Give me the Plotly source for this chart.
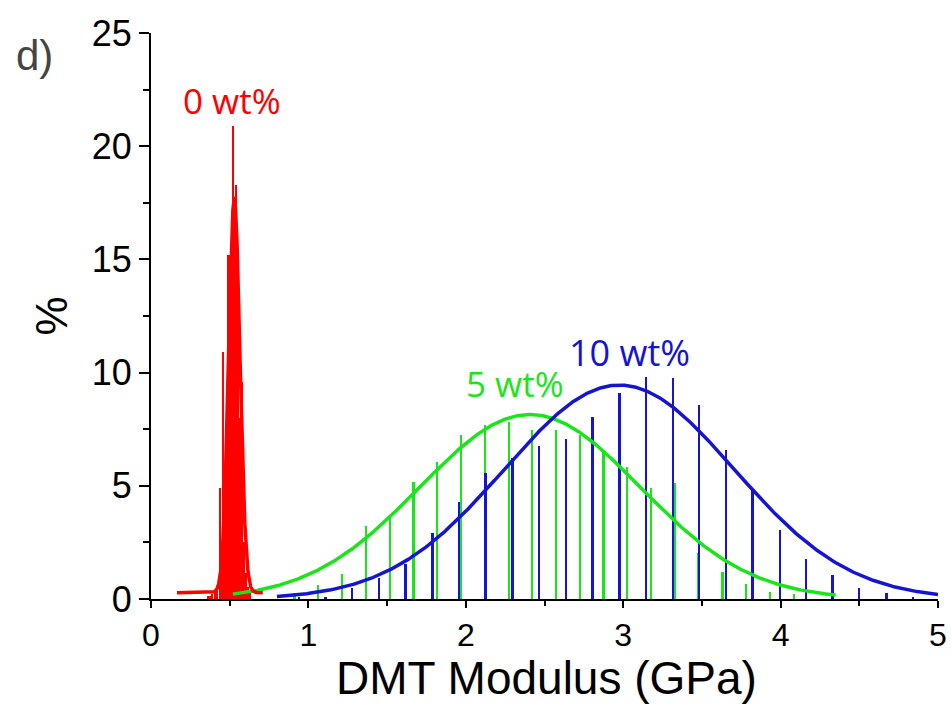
import numpy as np
import plotly.graph_objects as go

# ---- histogram data (DMT modulus, GPa) ----
red_x = [0.360, 0.375, 0.390, 0.405, 0.420, 0.436, 0.446, 0.455, 0.468, 0.479,
         0.490, 0.500, 0.511, 0.523, 0.533, 0.541, 0.552, 0.564, 0.578, 0.591,
         0.604, 0.616, 0.628]
red_y = [0.15, 0.15, 0.20, 0.25, 0.35, 4.9, 1.5, 10.9, 3.0, 6.0,
         15.2, 15.2, 16.5, 20.9, 17.5, 18.3, 14.0, 8.0, 9.6, 2.5,
         1.15, 0.55, 0.30]

green_x = [0.913, 1.063, 1.215, 1.366, 1.518, 1.669, 1.819, 1.969, 2.122, 2.274,
           2.422, 2.575, 2.726, 2.876, 3.026, 3.179, 3.329, 3.480, 3.632, 3.782,
           3.933, 4.085]
green_y = [0.28, 0.62, 1.09, 3.24, 3.70, 5.18, 6.04, 7.24, 7.69, 7.83,
           7.46, 7.46, 7.24, 6.51, 5.84, 4.89, 5.14, 2.02, 1.18, 0.66,
           0.32, 0.22]

blue_x = [0.940, 1.110, 1.279, 1.449, 1.618, 1.790, 1.957, 2.126, 2.298, 2.467,
          2.637, 2.806, 2.978, 3.145, 3.316, 3.483, 3.653, 3.823, 3.996, 4.163,
          4.331, 4.500, 4.674, 4.843]
blue_y = [0.05, 0.10, 0.47, 0.91, 1.55, 2.93, 4.30, 5.55, 6.24, 6.76,
          7.05, 8.05, 9.11, 9.79, 9.75, 8.57, 6.58, 4.81, 3.05, 1.77,
          1.06, 0.47, 0.25, 0.10]

# ---- Gaussian fit parameters: (offset, amplitude, centre, sigma, x-from, x-to) ----
red_fit = (0.28, 17.4, 0.529, 0.036, 0.165, 0.71)
green_fit = (0.0, 8.15, 2.408, 0.70, 0.52, 4.35)
blue_fit = (0.0, 9.45, 2.975, 0.73, 0.80, 5.00)

labels = ["0 wt%", "5 wt%", "10 wt%"]
x_title = "DMT Modulus (GPa)"
y_title = "%"
panel = "d)"
RED, GREEN, BLUE = "#FF0000", "#19E619", "#1414D2"


def fit_curve(p):
    y0, a, xc, s, x0, x1 = p
    xs = np.linspace(x0, x1, 600)
    return xs, y0 + a * np.exp(-(xs - xc) ** 2 / (2 * s ** 2))


fig = go.Figure()
fig.add_trace(go.Bar(x=green_x, y=green_y, width=0.011, marker=dict(color=GREEN, line_width=0),
                     showlegend=False))
fig.add_trace(go.Bar(x=blue_x, y=blue_y, width=0.011, marker=dict(color=BLUE, line_width=0),
                     showlegend=False))
fig.add_trace(go.Bar(x=red_x, y=red_y, width=0.0055, marker=dict(color=RED, line_width=0),
                     showlegend=False))

for p, c in [(green_fit, GREEN), (blue_fit, BLUE), (red_fit, RED)]:
    xs, ys = fit_curve(p)
    fig.add_trace(go.Scatter(x=xs, y=ys, mode="lines", line=dict(color=c, width=3.5),
                             showlegend=False, hoverinfo="skip"))

ann_font = "Open Sans, Segoe UI, Liberation Sans, sans-serif"
axis_font = "Liberation Sans, Arial, sans-serif"
fig.add_annotation(x=0.515, y=22.0, text=labels[0], showarrow=False,
                   font=dict(family=ann_font, size=35, color=RED))
fig.add_annotation(x=2.313, y=9.54, text=labels[1], showarrow=False,
                   font=dict(family=ann_font, size=35, color=GREEN))
fig.add_annotation(x=3.037, y=10.91, text=labels[2], showarrow=False,
                   font=dict(family=ann_font, size=36, color=BLUE))
# panel label and x-axis title (placed in paper coordinates)
fig.add_annotation(x=(34 - 151) / 787, y=(599 - 56) / 566, xref="paper", yref="paper",
                   xanchor="center", yanchor="middle", text=panel, showarrow=False,
                   font=dict(family=axis_font, size=42, color="#444444"))
fig.add_annotation(x=(546 - 151) / 787, y=(599 - 678) / 566, xref="paper", yref="paper",
                   xanchor="center", yanchor="middle", text=x_title, showarrow=False,
                   font=dict(family=axis_font, size=46, color="black"))

fig.update_layout(
    width=951, height=708,
    margin=dict(l=151, r=13, t=33, b=109, autoexpand=False),
    paper_bgcolor="white", plot_bgcolor="white",
    barmode="overlay", bargap=0,
    xaxis=dict(range=[0, 5], dtick=1, tick0=0, showgrid=False, zeroline=False, automargin=False,
               showline=True, linecolor="black", linewidth=2,
               ticks="outside", ticklen=7, tickwidth=2, tickcolor="black",
               minor=dict(dtick=0.5, ticks="outside", ticklen=5, tickwidth=2, tickcolor="black"),
               tickfont=dict(family=axis_font, size=32, color="black")),
    yaxis=dict(range=[0, 25], dtick=5, tick0=0, showgrid=False, zeroline=False, automargin=False,
               showline=True, linecolor="black", linewidth=2,
               ticks="outside", ticklen=10, tickwidth=2, tickcolor="black",
               minor=dict(dtick=2.5, ticks="outside", ticklen=6, tickwidth=2, tickcolor="black"),
               tickfont=dict(family=axis_font, size=36, color="black"),
               title=dict(text=y_title, standoff=10,
                          font=dict(family=axis_font, size=44, color="black"))),
)

fig.write_html("out.html")
